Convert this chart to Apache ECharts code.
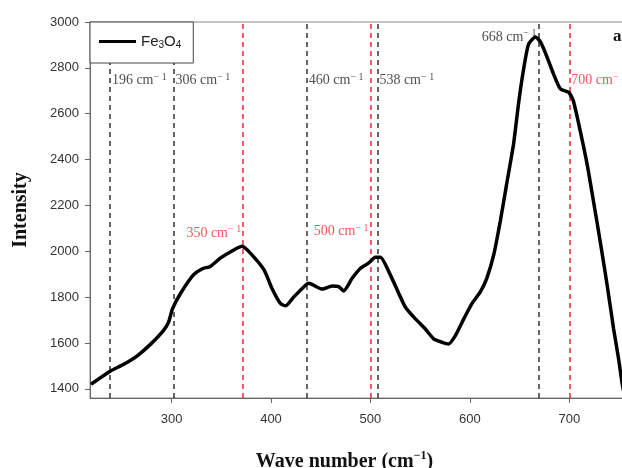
<!DOCTYPE html>
<html>
<head>
<meta charset="utf-8">
<script src="https://cdn.jsdelivr.net/npm/echarts@6/dist/echarts.min.js"></script>
<style>html,body{margin:0;padding:0;background:#fff}#c{width:622px;height:468px}</style>
</head>
<body>
<div id="c"></div>
<script>
// ---- data ----
const waveNumber = [219,238.7,252,265.5,279,292,297,301,309,322,331,339,349,363,371,379,393,401,409.5,414.6,423,435,438,451.5,461.5,468,473,481.6,490,498,505,510,520,528.5,535,545,555,563.6,572,578.7,585.4,594,602,610.5,617,624,630.6,637,644,649,654,659,666,671,677.6,684,691,699.5,704,711,718,724.4,731,738,744.5,749.6,753,757];
const intensity  = [1420,1478,1507,1544,1595,1655,1691,1750,1816,1897,1924,1934,1970,2007,2022,1993,1919,1838,1772,1762,1801,1853,1860,1835,1849,1846,1827,1882,1926,1948,1974,1974,1897,1816,1757,1706,1662,1618,1603,1596,1632,1706,1772,1823,1882,1985,2132,2294,2470,2647,2794,2903,2935,2913,2847,2774,2708,2693,2656,2524,2377,2215,2044,1853,1662,1529,1426,1340];
const xTicks = [300,400,500,600,700];
const yTicks = [1400,1600,1800,2000,2200,2400,2600,2800,3000];
const blackLineX = [238,302,436,507,669];
const blackLineLabels = ['196','306','460','538','668'];
const blackLabelY = [2745,2745,2745,2745,2935];
const redLineX = [372,500,700];
const redLineLabels = ['350','500','700'];
const redLabelY = [2080,2085,2745];
const seriesName = 'Fe3O4';

// ---- chart ----
const leftSide = new Set(['668','350','500']);
const BLACK = '#333', RED = '#ee2a33';
const serif = '"Liberation Serif","Times New Roman",serif';
const sans = '"Liberation Sans",Arial,sans-serif';
function annRich(color){
  return {
    t:{fontFamily:serif,fontSize:14,color:color,lineHeight:17},
    sup:{fontFamily:serif,fontSize:10,color:color,verticalAlign:'top',lineHeight:11}
  };
}
function annData(xs, ys, labels, color){
  return xs.map((x,i)=>({
    value:[x, ys[i]],
    label:{
      show:true,
      position: leftSide.has(labels[i]) ? 'left' : 'right',
      distance:2,
      formatter:'{t|'+labels[i]+' cm}{sup|− 1}',
      rich:annRich(color)
    }
  }));
}
const chart = echarts.init(document.getElementById('c'), null, {renderer:'canvas'});
chart.setOption({
  animation:false,
  backgroundColor:'#fff',
  grid:{left:90, top:22, width:539, height:376, outerBoundsMode:'none', containLabel:false,
        show:true, borderColor:'#888', borderWidth:1},
  legend:{
    left:90, top:22, z:10,
    data:[{name:seriesName, icon:'rect'}],
    itemWidth:37, itemHeight:3,
    backgroundColor:'#fff',
    borderColor:'#444', borderWidth:1,
    padding:[12,12,13,9],
    formatter:()=>'{n|Fe}{s|3}{n|O}{s|4}',
    textStyle:{rich:{
      n:{fontFamily:sans,fontSize:15,color:'#222',lineHeight:17},
      s:{fontFamily:sans,fontSize:10,color:'#222',verticalAlign:'bottom',lineHeight:10}
    }}
  },
  xAxis:{
    type:'value', min:218, max:760,
    name:'{b|Wave number (cm}{sup|−1}{b|)}',
    nameLocation:'middle', nameGap:52,
    nameTextStyle:{padding:[0,30,0,0], rich:{
      b:{fontFamily:serif,fontSize:20,fontWeight:'bold',color:'#111',lineHeight:24},
      sup:{fontFamily:serif,fontSize:12,fontWeight:'bold',color:'#111',verticalAlign:'top',lineHeight:13}
    }},
    axisLine:{show:true, onZero:false, lineStyle:{color:'#666', width:1}},
    axisTick:{show:true, length:5, customValues:xTicks, lineStyle:{color:'#666'}},
    axisLabel:{customValues:xTicks, margin:15, fontFamily:sans, fontSize:13, color:'#333'},
    splitLine:{show:false}
  },
  yAxis:{
    type:'value', min:1360, max:3000,
    name:'Intensity', nameLocation:'middle', nameGap:59,
    nameTextStyle:{fontFamily:serif,fontSize:20,fontWeight:'bold',color:'#111'},
    axisLine:{show:true, onZero:false, lineStyle:{color:'#666', width:1}},
    axisTick:{show:true, length:5, customValues:yTicks, lineStyle:{color:'#666'}},
    axisLabel:{customValues:yTicks, margin:11, fontFamily:sans, fontSize:13, color:'#333',
               formatter:v=>String(v)},
    splitLine:{show:false}
  },
  series:[
    {
      name:seriesName, type:'line',
      data:waveNumber.map((x,i)=>[x,intensity[i]]),
      showSymbol:false, smooth:0.2, clip:true,
      lineStyle:{color:'#000', width:3.5},
      itemStyle:{color:'#000'},
      z:5,
      markLine:{
        silent:true, symbol:['none','none'], label:{show:false},
        data: blackLineX.map(v=>({xAxis:v, lineStyle:{color:BLACK, type:[5,4], width:1.5}}))
          .concat(redLineX.map(v=>({xAxis:v, lineStyle:{color:RED, type:[5,4], width:1.5}})))
      }
    },
    {
      name:'blackLabels', type:'scatter', symbolSize:0, silent:true,
      data:annData(blackLineX, blackLabelY, blackLineLabels, '#222')
    },
    {
      name:'redLabels', type:'scatter', symbolSize:0, silent:true,
      data:annData(redLineX, redLabelY, redLineLabels, RED)
    }
  ],
  graphic:[{type:'text', left:613, top:28, style:{text:'a', font:'bold 17px '+serif, fill:'#111'}}]
});
</script>
</body>
</html>
